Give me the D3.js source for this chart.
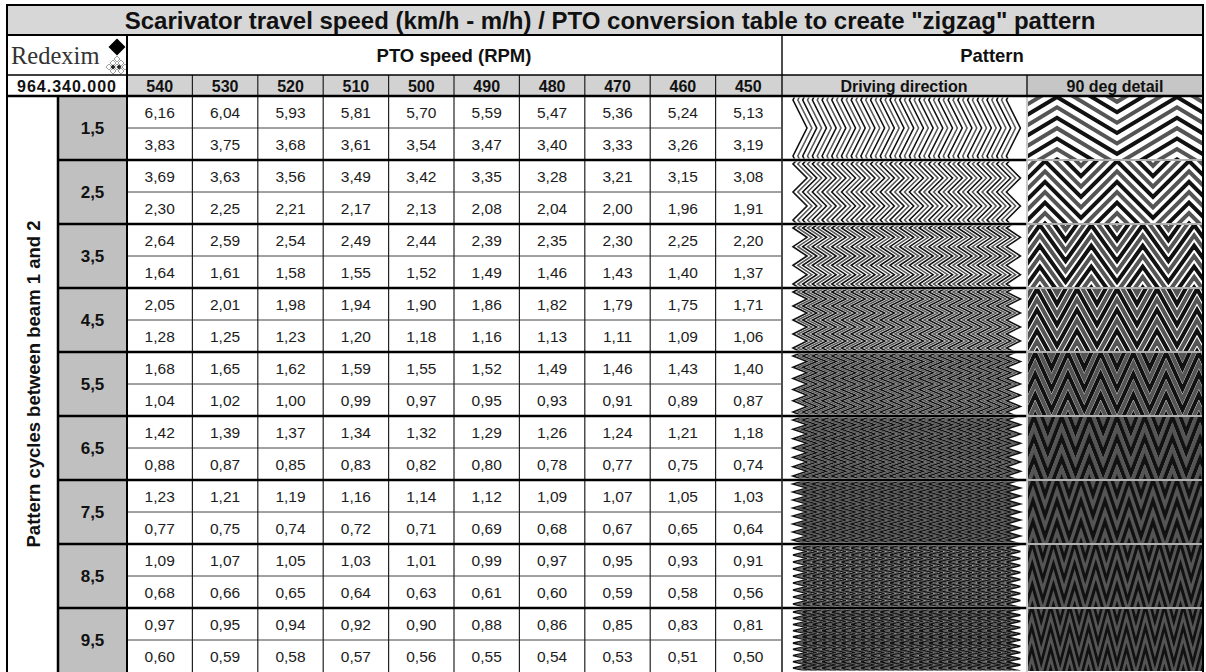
<!DOCTYPE html>
<html><head><meta charset="utf-8">
<script src="https://cdn.jsdelivr.net/npm/d3@7"></script>
<style>html,body{margin:0;padding:0;background:#fff;}svg{display:block;}</style>
</head><body>
<svg id="c" width="1206" height="672"></svg>
<script>
const titleText = 'Scarivator travel speed (km/h - m/h) / PTO conversion table to create "zigzag" pattern';
const rpm = [540, 530, 520, 510, 500, 490, 480, 470, 460, 450];
const cycles = [1.5, 2.5, 3.5, 4.5, 5.5, 6.5, 7.5, 8.5, 9.5];
const kmh = [
  [6.16,6.04,5.93,5.81,5.70,5.59,5.47,5.36,5.24,5.13],
  [3.69,3.63,3.56,3.49,3.42,3.35,3.28,3.21,3.15,3.08],
  [2.64,2.59,2.54,2.49,2.44,2.39,2.35,2.30,2.25,2.20],
  [2.05,2.01,1.98,1.94,1.90,1.86,1.82,1.79,1.75,1.71],
  [1.68,1.65,1.62,1.59,1.55,1.52,1.49,1.46,1.43,1.40],
  [1.42,1.39,1.37,1.34,1.32,1.29,1.26,1.24,1.21,1.18],
  [1.23,1.21,1.19,1.16,1.14,1.12,1.09,1.07,1.05,1.03],
  [1.09,1.07,1.05,1.03,1.01,0.99,0.97,0.95,0.93,0.91],
  [0.97,0.95,0.94,0.92,0.90,0.88,0.86,0.85,0.83,0.81]
];
const mph = [
  [3.83,3.75,3.68,3.61,3.54,3.47,3.40,3.33,3.26,3.19],
  [2.30,2.25,2.21,2.17,2.13,2.08,2.04,2.00,1.96,1.91],
  [1.64,1.61,1.58,1.55,1.52,1.49,1.46,1.43,1.40,1.37],
  [1.28,1.25,1.23,1.20,1.18,1.16,1.13,1.11,1.09,1.06],
  [1.04,1.02,1.00,0.99,0.97,0.95,0.93,0.91,0.89,0.87],
  [0.88,0.87,0.85,0.83,0.82,0.80,0.78,0.77,0.75,0.74],
  [0.77,0.75,0.74,0.72,0.71,0.69,0.68,0.67,0.65,0.64],
  [0.68,0.66,0.65,0.64,0.63,0.61,0.60,0.59,0.58,0.56],
  [0.60,0.59,0.58,0.57,0.56,0.55,0.54,0.53,0.51,0.50]
];
const headerPTO = "PTO speed (RPM)";
const headerPattern = "Pattern";
const patternCols = ["Driving direction", "90 deg detail"];
const logoText = "Redexim";
const codeText = "964.340.000";
const sideLabel = "Pattern cycles between beam 1 and 2";

const svg = d3.select("#c");
const SANS = "'Liberation Sans', Arial, sans-serif";
const fmt = v => d3.format(".2f")(v).replace(".", ",");

// layout
const L = 7, R = 1203, T = 5, titleB = 35, logoB = 75, headB = 96, B = 672;
const xLab = 58, xData0 = 127, xData1 = 781, xDrive1 = 1027;

const x = d3.scaleBand().domain(rpm).range([xData0, xData1]);
const g = d3.scaleBand().domain(cycles).range([headB, B]);
const sub = d3.scaleBand().domain([0, 1]).range([0, g.bandwidth()]);

// backgrounds
svg.append("rect").attr("x", L).attr("y", T).attr("width", R - L).attr("height", titleB - T).attr("fill", "#d7d7d7");
svg.append("rect").attr("x", xData0).attr("y", logoB).attr("width", xDrive1 - xData0).attr("height", headB - logoB).attr("fill", "#d2d2d2");
svg.append("rect").attr("x", xDrive1).attr("y", logoB).attr("width", R - xDrive1).attr("height", headB - logoB).attr("fill", "#c6c6c6");
svg.selectAll("rect.grp").data(cycles).join("rect").attr("class", "grp")
  .attr("x", xLab).attr("y", d => g(d)).attr("width", xData0 - xLab).attr("height", g.bandwidth()).attr("fill", "#c0c0c0");

// title
svg.append("text").attr("x", (L + R) / 2 + 5).attr("y", 28.5).attr("text-anchor", "middle")
  .attr("font-family", SANS).attr("font-weight", "bold").attr("font-size", 24).attr("fill", "#111").text(titleText);

// logo
svg.append("text").attr("x", 11).attr("y", 64).attr("font-family", "'Liberation Serif', 'Times New Roman', serif")
  .attr("font-size", 24.5).attr("fill", "#333").text(logoText);
svg.append("path").attr("d", "M117,38.5 L125.5,47 L117,55.5 L108.5,47 Z").attr("fill", "#000");
const lat = svg.append("g").attr("fill", "none").attr("stroke", "#888").attr("stroke-width", 0.8);
[[117,59],[113,63],[121,63],[109,67],[117,67],[125,67],[113,71],[121,71]].forEach(([cx, cy]) => {
  lat.append("path").attr("d", `M${cx},${cy-3} L${cx+3},${cy} L${cx},${cy+3} L${cx-3},${cy} Z`);
});
[[113,67],[119,67]].forEach(([cx, cy]) => {
  svg.append("path").attr("d", `M${cx},${cy-2.5} L${cx+2.5},${cy} L${cx},${cy+2.5} L${cx-2.5},${cy} Z`).attr("fill", "#222");
});
svg.append("text").attr("x", (L + xData0) / 2).attr("y", 91.5).attr("text-anchor", "middle")
  .attr("font-family", SANS).attr("font-weight", "bold").attr("font-size", 16).attr("letter-spacing", 1)
  .attr("fill", "#111").text(codeText);

// group header texts
svg.append("text").attr("x", (xData0 + xData1) / 2).attr("y", 61.5).attr("text-anchor", "middle")
  .attr("font-family", SANS).attr("font-weight", "bold").attr("font-size", 18.5).attr("fill", "#111").text(headerPTO);
svg.append("text").attr("x", (xData1 + R) / 2).attr("y", 61.5).attr("text-anchor", "middle")
  .attr("font-family", SANS).attr("font-weight", "bold").attr("font-size", 18.5).attr("fill", "#111").text(headerPattern);

// column headers
svg.selectAll("text.rpm").data(rpm).join("text").attr("class", "rpm")
  .attr("x", d => x(d) + x.bandwidth() / 2).attr("y", 91.5).attr("text-anchor", "middle")
  .attr("font-family", SANS).attr("font-weight", "bold").attr("font-size", 16).attr("fill", "#111").text(d => d);
const pcx = [(xData1 + xDrive1) / 2, (xDrive1 + R) / 2];
patternCols.forEach((t, i) => {
  svg.append("text").attr("x", pcx[i]).attr("y", 91.5).attr("text-anchor", "middle")
    .attr("font-family", SANS).attr("font-weight", "bold").attr("font-size", 16).attr("fill", "#111").text(t);
});

// group labels
svg.selectAll("text.cyc").data(cycles).join("text").attr("class", "cyc")
  .attr("x", (xLab + xData0) / 2).attr("y", d => g(d) + g.bandwidth() / 2 + 6).attr("text-anchor", "middle")
  .attr("font-family", SANS).attr("font-weight", "bold").attr("font-size", 17).attr("fill", "#111").text(d => fmt(d).replace(/0$/, ""));

// side label
svg.append("text").attr("transform", `translate(39.5,384) rotate(-90)`).attr("text-anchor", "middle")
  .attr("font-family", SANS).attr("font-weight", "bold").attr("font-size", 18.5).attr("fill", "#111").text(sideLabel);

// data values
cycles.forEach((c, gi) => {
  [kmh[gi], mph[gi]].forEach((vals, si) => {
    svg.append("g").selectAll("text").data(vals).join("text")
      .attr("x", (d, i) => x(rpm[i]) + x.bandwidth() / 2)
      .attr("y", g(c) + sub(si) + sub.bandwidth() / 2 + 5.5)
      .attr("text-anchor", "middle").attr("font-family", SANS).attr("font-size", 15.5).attr("fill", "#1c1c1c")
      .text(d => fmt(d));
  });
});

// patterns
const defs = svg.append("defs");
const line = d3.line();
cycles.forEach((c, gi) => {
  const y0 = g(c), h = g.bandwidth();
  defs.append("clipPath").attr("id", "cd" + gi).append("rect")
    .attr("x", xData1 + 2).attr("y", y0 + 1.5).attr("width", xDrive1 - xData1 - 5).attr("height", h - 3);
  defs.append("clipPath").attr("id", "cp" + gi).append("rect")
    .attr("x", xDrive1 + 1).attr("y", y0 + 1).attr("width", R - xDrive1 - 2).attr("height", h - 2);
  // driving direction: vertical zigzag lines
  const gd = svg.append("g").attr("clip-path", `url(#cd${gi})`).attr("fill", "none").attr("stroke-width", 1.6).attr("stroke-linejoin", "miter");
  const n = Math.round(2 * (c - 0.5));
  const hp = 56 / n;
  const amp = 14;
  for (let p = 0; p < 45; p++) {
    const bx = 793 + p * 4.85;
    const pts = [];
    for (let j = -1; j <= n + 1; j++) pts.push([bx + ((j % 2 + 2) % 2 ? amp : 0), y0 + 4 + j * hp]);
    gd.append("path").attr("d", line(pts)).attr("stroke", p % 2 === 0 ? "#111" : "#5a5a5a");
  }
  // 90 deg detail: horizontal zigzag lines
  const gp = svg.append("g").attr("clip-path", `url(#cp${gi})`).attr("fill", "none").attr("stroke-width", 4).attr("stroke-linejoin", "miter");
  const per = 180 / c;
  const A = 36;
  const xs = xDrive1 + per / 4 - per;
  for (let j = -6; j < 8; j++) {
    const yb = y0 + 1 + j * 10.4;
    const pts = [];
    for (let k = 0; xs + k * per / 2 < R + per; k++) pts.push([xs + k * per / 2, yb + (k % 2 ? A : 0)]);
    gp.append("path").attr("d", line(pts)).attr("stroke", ((j % 2) + 2) % 2 ? "#555" : "#111");
  }
});

// grid lines
const gl = svg.append("g");
gl.selectAll("line.sr").data(cycles).join("line").attr("class", "sr")
  .attr("x1", xData0).attr("x2", xData1).attr("y1", d => g(d) + sub(1)).attr("y2", d => g(d) + sub(1))
  .attr("stroke", "#444").attr("stroke-width", 1);
gl.selectAll("line.vc").data(rpm.slice(1)).join("line").attr("class", "vc")
  .attr("x1", d => x(d)).attr("x2", d => x(d)).attr("y1", logoB).attr("y2", B)
  .attr("stroke", "#222").attr("stroke-width", 1.2);
gl.selectAll("line.gb").data(cycles.slice(1)).join("line").attr("class", "gb")
  .attr("x1", xLab).attr("x2", xDrive1).attr("y1", d => g(d)).attr("y2", d => g(d))
  .attr("stroke", "#000").attr("stroke-width", 2.5);
gl.selectAll("line.gb2").data(cycles.slice(1)).join("line").attr("class", "gb2")
  .attr("x1", xDrive1).attr("x2", R).attr("y1", d => g(d)).attr("y2", d => g(d))
  .attr("stroke", "#b0b0b0").attr("stroke-width", 2);
const vline = (xx, y1, y2, w, col) => gl.append("line").attr("x1", xx).attr("x2", xx).attr("y1", y1).attr("y2", y2).attr("stroke", col || "#000").attr("stroke-width", w);
const hline = (yy, x1, x2, w, col) => gl.append("line").attr("x1", x1).attr("x2", x2).attr("y1", yy).attr("y2", yy).attr("stroke", col || "#000").attr("stroke-width", w);
vline(xLab, headB, B, 2.5);
vline(xData0, titleB, B, 2);
vline(xData1 + 1, titleB, B, 1.6, "#222");
vline(xDrive1, logoB, headB, 1.5, "#222");
vline(xDrive1, headB, B, 1.6, "#c0c0c0");
hline(titleB, L, R, 2);
hline(logoB, L, R, 1.5);
hline(headB, L, R, 2.5);
gl.append("rect").attr("x", L).attr("y", T).attr("width", R - L).attr("height", B - T + 5)
  .attr("fill", "none").attr("stroke", "#000").attr("stroke-width", 2);
</script>
</body></html>
